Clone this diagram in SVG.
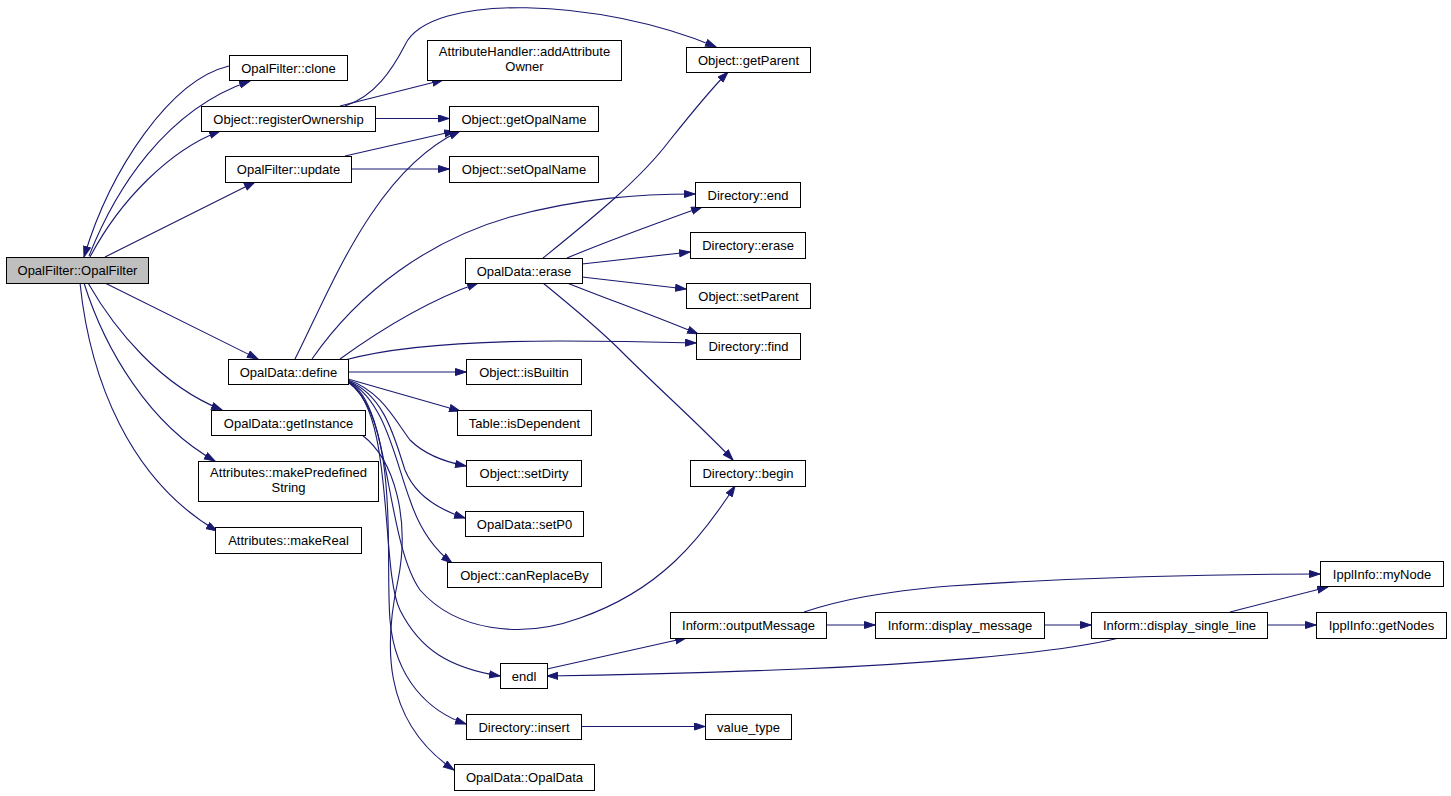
<svg xmlns="http://www.w3.org/2000/svg" width="1451" height="796" viewBox="0 0 1451 796">
<style>
.n rect{fill:#ffffff;stroke:#000000;stroke-width:1}
.n.root rect{fill:#bfbfbf}
.n text{font-family:"Liberation Sans",Arial,Helvetica,sans-serif;font-size:13px;fill:#000000;text-anchor:middle}
.e path{fill:none;stroke:#191970;stroke-width:1.1;marker-end:url(#ah)}
</style>
<defs>
<marker id="ah" markerUnits="userSpaceOnUse" markerWidth="13" markerHeight="9" refX="11" refY="4" orient="auto">
<path d="M0.5,0.5 L11,4 L0.5,7.5 Z" fill="#191970" stroke="#191970" stroke-width="1"/>
</marker>
</defs>
<rect width="1451" height="796" fill="#ffffff"/>
<g id="edges" class="e">
<path d="M89,256 C115,190 165,110 250,81"/>
<path d="M229,66 C170,80 110,170 84,257"/>
<path d="M90,257 C120,200 170,150 220,131"/>
<path d="M105,257 L255,182"/>
<path d="M105,283 L258,359"/>
<path d="M88,283 C115,330 160,385 222,410"/>
<path d="M84,283 C105,350 150,425 215,461"/>
<path d="M80,283 C90,380 130,480 217,531"/>
<path d="M340,106 L443,80"/>
<path d="M345,106 C375,96 392,70 405,45 C430,-8 600,-2 716,47"/>
<path d="M375,118.5 L449,118.5"/>
<path d="M345,156 L455,131"/>
<path d="M351,169 L449,169"/>
<path d="M295,359 C330,290 375,170 460,131"/>
<path d="M312,359 C360,290 430,240 510,217 C580,198 640,194 695,194"/>
<path d="M340,359 C380,330 430,300 478,283"/>
<path d="M345,360 C400,345 480,341 560,341 C620,341 660,342 696,343"/>
<path d="M348,372 L466,372"/>
<path d="M348,379 L460,411"/>
<path d="M348,380 C380,390 395,420 410,440 C425,455 445,462 466,466"/>
<path d="M348,381 C385,395 395,440 405,470 C415,495 440,510 465,518"/>
<path d="M348,381 C385,400 395,460 410,500 C420,530 435,550 452,563"/>
<path d="M348,382 C390,400 385,540 420,590 C455,630 520,640 580,618 C660,590 700,540 735,486"/>
<path d="M348,382 C395,410 380,570 400,610 C420,650 450,668 500,676"/>
<path d="M348,382 C400,420 385,560 390,620 C395,680 430,712 466,724"/>
<path d="M362,435 C395,460 410,520 398,580 C385,640 380,720 454,770"/>
<path d="M543,258 C590,220 640,180 670,140 C690,115 710,90 728,72"/>
<path d="M567,258 C610,240 660,222 702,207"/>
<path d="M582,264 L690,252"/>
<path d="M582,277 L686,289"/>
<path d="M567,283 C610,300 660,318 698,334"/>
<path d="M543,283 C570,305 600,330 620,350 C660,390 700,425 733,460"/>
<path d="M804,612 C840,600 880,592 950,586 C1100,576 1220,574 1320,574"/>
<path d="M826,625 L875,625"/>
<path d="M1044,625 L1091,625"/>
<path d="M1267,625 L1316,625"/>
<path d="M1230,612 L1328,587"/>
<path d="M1119,638 C1050,655 900,665 800,669 C700,673 620,675 547,676"/>
<path d="M547,669 L686,638"/>
<path d="M581,726.5 L705,726.5"/>
</g>
<g id="n1" class="n root"><rect x="6.5" y="257.5" width="142" height="26"/><text x="77.5" y="275">OpalFilter::OpalFilter</text></g>
<g id="n2" class="n"><rect x="229.5" y="55.5" width="118" height="25"/><text x="288.5" y="72.5">OpalFilter::clone</text></g>
<g id="n3" class="n"><rect x="201.5" y="106.5" width="174" height="25"/><text x="288.5" y="123.5">Object::registerOwnership</text></g>
<g id="n4" class="n"><rect x="225.5" y="156.5" width="126" height="26"/><text x="288.5" y="174">OpalFilter::update</text></g>
<g id="n5" class="n"><rect x="228.5" y="359.5" width="120" height="25"/><text x="288.5" y="376.5">OpalData::define</text></g>
<g id="n6" class="n"><rect x="211.5" y="410.5" width="154" height="25"/><text x="288.5" y="427.5">OpalData::getInstance</text></g>
<g id="n7" class="n"><rect x="198.5" y="461.5" width="180" height="40"/><text x="288.5" y="477">Attributes::makePredefined</text><text x="288.5" y="492">String</text></g>
<g id="n8" class="n"><rect x="215.5" y="527.5" width="146" height="26"/><text x="288.5" y="545">Attributes::makeReal</text></g>
<g id="n9" class="n"><rect x="427.5" y="40.5" width="194" height="40"/><text x="524.5" y="56">AttributeHandler::addAttribute</text><text x="524.5" y="71">Owner</text></g>
<g id="n10" class="n"><rect x="686.5" y="47.5" width="124" height="25"/><text x="748.5" y="64.5">Object::getParent</text></g>
<g id="n11" class="n"><rect x="449.5" y="106.5" width="149" height="25"/><text x="524" y="123.5">Object::getOpalName</text></g>
<g id="n12" class="n"><rect x="449.5" y="156.5" width="149" height="26"/><text x="524" y="174">Object::setOpalName</text></g>
<g id="n13" class="n"><rect x="695.5" y="182.5" width="105" height="25"/><text x="748" y="199.5">Directory::end</text></g>
<g id="n14" class="n"><rect x="690.5" y="232.5" width="115" height="26"/><text x="748" y="250">Directory::erase</text></g>
<g id="n15" class="n"><rect x="465.5" y="258.5" width="117" height="25"/><text x="524" y="275.5">OpalData::erase</text></g>
<g id="n16" class="n"><rect x="686.5" y="283.5" width="124" height="25"/><text x="748.5" y="300.5">Object::setParent</text></g>
<g id="n17" class="n"><rect x="696.5" y="333.5" width="104" height="26"/><text x="748.5" y="351">Directory::find</text></g>
<g id="n18" class="n"><rect x="466.5" y="359.5" width="115" height="25"/><text x="524" y="376.5">Object::isBuiltin</text></g>
<g id="n19" class="n"><rect x="457.5" y="410.5" width="134" height="25"/><text x="524.5" y="427.5">Table::isDependent</text></g>
<g id="n20" class="n"><rect x="466.5" y="460.5" width="115" height="26"/><text x="524" y="478">Object::setDirty</text></g>
<g id="n21" class="n"><rect x="465.5" y="511.5" width="118" height="25"/><text x="524.5" y="528.5">OpalData::setP0</text></g>
<g id="n22" class="n"><rect x="447.5" y="562.5" width="154" height="25"/><text x="524.5" y="579.5">Object::canReplaceBy</text></g>
<g id="n23" class="n"><rect x="690.5" y="460.5" width="115" height="26"/><text x="748" y="478">Directory::begin</text></g>
<g id="n24" class="n"><rect x="670.5" y="612.5" width="156" height="26"/><text x="748.5" y="630">Inform::outputMessage</text></g>
<g id="n25" class="n"><rect x="500.5" y="663.5" width="47" height="25"/><text x="524" y="680.5">endl</text></g>
<g id="n26" class="n"><rect x="466.5" y="714.5" width="115" height="25"/><text x="524" y="731.5">Directory::insert</text></g>
<g id="n27" class="n"><rect x="705.5" y="714.5" width="86" height="25"/><text x="748.5" y="731.5">value_type</text></g>
<g id="n28" class="n"><rect x="454.5" y="764.5" width="140" height="26"/><text x="524.5" y="782">OpalData::OpalData</text></g>
<g id="n29" class="n"><rect x="875.5" y="612.5" width="169" height="26"/><text x="960" y="630">Inform::display_message</text></g>
<g id="n30" class="n"><rect x="1091.5" y="612.5" width="176" height="26"/><text x="1179.5" y="630">Inform::display_single_line</text></g>
<g id="n31" class="n"><rect x="1320.5" y="561.5" width="123" height="25"/><text x="1382" y="578.5">IpplInfo::myNode</text></g>
<g id="n32" class="n"><rect x="1316.5" y="612.5" width="130" height="26"/><text x="1381.5" y="630">IpplInfo::getNodes</text></g>
</svg>
